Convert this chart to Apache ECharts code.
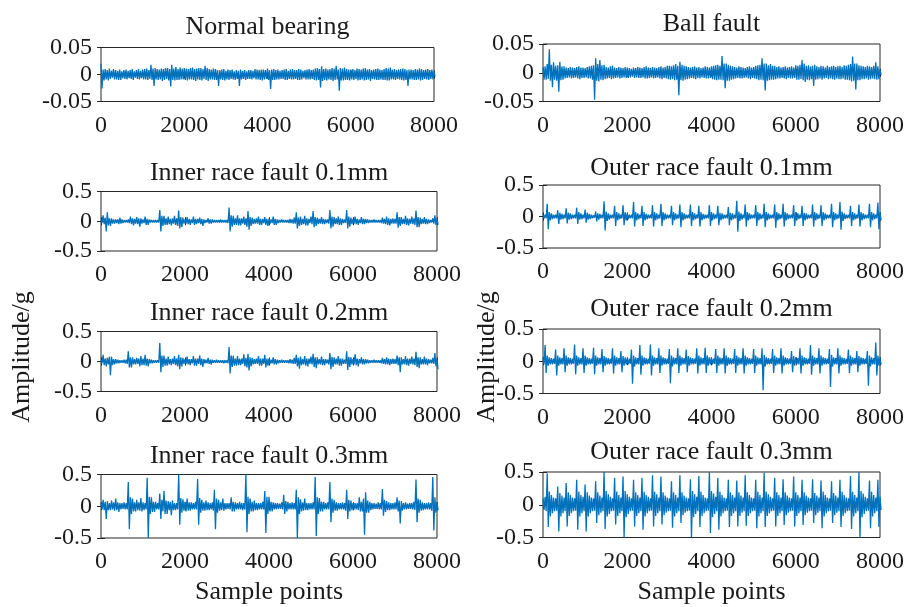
<!DOCTYPE html>
<html>
<head>
<meta charset="utf-8">
<script src="https://cdn.jsdelivr.net/npm/echarts@6/dist/echarts.min.js"></script>
<style>
  html, body { margin: 0; padding: 0; background: #ffffff; }
  #chart { width: 907px; height: 607px; }
</style>
</head>
<body>
<div id="chart"></div>
<script>
// Each record is stored as the upper and lower envelope of consecutive
// WINDOW-sample blocks (block k starts at sample k * WINDOW).
const WINDOW = 50;

const xTicks = [0, 2000, 4000, 6000, 8000];
const yTicksSmall = [-0.05, 0, 0.05];
const yTicksLarge = [-0.5, 0, 0.5];

const panelTitles = [
  'Normal bearing', 'Ball fault',
  'Inner race fault 0.1mm', 'Outer race fault 0.1mm',
  'Inner race fault 0.2mm', 'Outer race fault 0.2mm',
  'Inner race fault 0.3mm', 'Outer race fault 0.3mm'
];
const yAxisName = 'Amplitude/g';
const xAxisName = 'Sample points';

// ---- Normal bearing ----
const normalMax = [
  0.020, 0.009, 0.010, 0.008, 0.011, 0.007, 0.010, 0.008, 0.007, 0.009,
  0.006, 0.008, 0.009, 0.007, 0.008, 0.010, 0.006, 0.008, 0.010, 0.007,
  0.009, 0.010, 0.011, 0.008, 0.018, 0.011, 0.012, 0.010, 0.009, 0.011,
  0.010, 0.012, 0.012, 0.010, 0.018, 0.011, 0.014, 0.010, 0.013, 0.011,
  0.012, 0.011, 0.010, 0.012, 0.013, 0.010, 0.011, 0.012, 0.012, 0.010,
  0.016, 0.012, 0.010, 0.009, 0.011, 0.010, 0.008, 0.008, 0.009, 0.010,
  0.007, 0.009, 0.008, 0.009, 0.006, 0.008, 0.007, 0.009, 0.007, 0.008,
  0.006, 0.008, 0.008, 0.007, 0.010, 0.009, 0.008, 0.009, 0.009, 0.008,
  0.011, 0.008, 0.009, 0.010, 0.008, 0.009, 0.007, 0.008, 0.009, 0.010,
  0.007, 0.009, 0.010, 0.008, 0.008, 0.010, 0.009, 0.007, 0.008, 0.009,
  0.010, 0.008, 0.009, 0.011, 0.012, 0.010, 0.015, 0.010, 0.011, 0.009,
  0.010, 0.012, 0.011, 0.016, 0.009, 0.012, 0.011, 0.013, 0.010, 0.009,
  0.009, 0.010, 0.008, 0.011, 0.010, 0.009, 0.011, 0.012, 0.009, 0.010,
  0.008, 0.009, 0.010, 0.011, 0.009, 0.008, 0.010, 0.012, 0.011, 0.013,
  0.009, 0.010, 0.008, 0.009, 0.010, 0.011, 0.010, 0.008, 0.009, 0.009,
  0.008, 0.010, 0.009, 0.011, 0.010, 0.008, 0.009, 0.010, 0.008, 0.009,
  0.006
];
const normalMin = [
  -0.026, -0.011, -0.009, -0.011, -0.008, -0.006, -0.009, -0.009, -0.010, -0.010,
  -0.007, -0.008, -0.009, -0.007, -0.008, -0.010, -0.006, -0.008, -0.009, -0.007,
  -0.009, -0.009, -0.010, -0.008, -0.010, -0.021, -0.009, -0.010, -0.009, -0.012,
  -0.010, -0.008, -0.011, -0.022, -0.010, -0.011, -0.010, -0.010, -0.009, -0.009,
  -0.010, -0.011, -0.009, -0.009, -0.010, -0.012, -0.009, -0.010, -0.011, -0.008,
  -0.010, -0.012, -0.009, -0.009, -0.010, -0.010, -0.021, -0.009, -0.010, -0.011,
  -0.009, -0.010, -0.008, -0.009, -0.010, -0.008, -0.021, -0.009, -0.008, -0.010,
  -0.008, -0.008, -0.009, -0.007, -0.009, -0.009, -0.010, -0.011, -0.009, -0.008,
  -0.010, -0.027, -0.010, -0.010, -0.009, -0.009, -0.008, -0.008, -0.010, -0.010,
  -0.008, -0.009, -0.009, -0.008, -0.010, -0.010, -0.009, -0.007, -0.009, -0.009,
  -0.009, -0.008, -0.010, -0.011, -0.010, -0.024, -0.012, -0.010, -0.011, -0.009,
  -0.010, -0.012, -0.010, -0.009, -0.030, -0.011, -0.011, -0.010, -0.010, -0.011,
  -0.009, -0.010, -0.008, -0.011, -0.010, -0.009, -0.011, -0.010, -0.009, -0.012,
  -0.008, -0.009, -0.010, -0.010, -0.009, -0.010, -0.010, -0.011, -0.011, -0.009,
  -0.009, -0.010, -0.008, -0.009, -0.010, -0.011, -0.010, -0.021, -0.009, -0.009,
  -0.010, -0.010, -0.009, -0.011, -0.010, -0.008, -0.009, -0.010, -0.008, -0.009,
  -0.004
];

// ---- Ball fault ----
const ballMax = [
  0.010, 0.011, 0.015, 0.041, 0.014, 0.018, 0.012, 0.013, 0.019, 0.011,
  0.011, 0.009, 0.008, 0.010, 0.009, 0.008, 0.010, 0.011, 0.009, 0.009,
  0.008, 0.010, 0.011, 0.012, 0.013, 0.025, 0.015, 0.022, 0.013, 0.014,
  0.010, 0.009, 0.011, 0.012, 0.009, 0.008, 0.010, 0.009, 0.008, 0.010,
  0.009, 0.008, 0.007, 0.009, 0.008, 0.010, 0.009, 0.008, 0.010, 0.011,
  0.009, 0.008, 0.010, 0.009, 0.008, 0.010, 0.011, 0.009, 0.010, 0.012,
  0.012, 0.011, 0.013, 0.015, 0.012, 0.019, 0.014, 0.012, 0.011, 0.010,
  0.009, 0.010, 0.011, 0.009, 0.010, 0.008, 0.009, 0.011, 0.010, 0.009,
  0.011, 0.012, 0.013, 0.014, 0.012, 0.029, 0.016, 0.016, 0.014, 0.012,
  0.011, 0.010, 0.009, 0.011, 0.010, 0.009, 0.008, 0.010, 0.011, 0.009,
  0.010, 0.012, 0.013, 0.014, 0.025, 0.016, 0.016, 0.013, 0.015, 0.012,
  0.012, 0.010, 0.011, 0.009, 0.010, 0.011, 0.009, 0.010, 0.011, 0.009,
  0.013, 0.012, 0.014, 0.022, 0.016, 0.012, 0.013, 0.011, 0.012, 0.014,
  0.011, 0.010, 0.012, 0.011, 0.009, 0.012, 0.010, 0.011, 0.012, 0.010,
  0.011, 0.012, 0.010, 0.013, 0.012, 0.014, 0.015, 0.028, 0.016, 0.016,
  0.013, 0.012, 0.011, 0.010, 0.012, 0.011, 0.010, 0.012, 0.018, 0.011,
  0.006
];
const ballMin = [
  -0.012, -0.012, -0.011, -0.014, -0.025, -0.012, -0.014, -0.033, -0.013, -0.012,
  -0.010, -0.009, -0.008, -0.010, -0.009, -0.008, -0.010, -0.011, -0.009, -0.009,
  -0.008, -0.010, -0.010, -0.012, -0.047, -0.014, -0.015, -0.012, -0.013, -0.011,
  -0.010, -0.009, -0.011, -0.010, -0.009, -0.008, -0.010, -0.009, -0.008, -0.009,
  -0.009, -0.008, -0.007, -0.009, -0.008, -0.009, -0.009, -0.008, -0.010, -0.010,
  -0.009, -0.008, -0.010, -0.009, -0.008, -0.010, -0.011, -0.009, -0.010, -0.011,
  -0.012, -0.011, -0.013, -0.012, -0.039, -0.013, -0.014, -0.012, -0.011, -0.010,
  -0.009, -0.010, -0.011, -0.009, -0.010, -0.008, -0.009, -0.010, -0.010, -0.009,
  -0.011, -0.012, -0.013, -0.012, -0.012, -0.013, -0.027, -0.014, -0.014, -0.012,
  -0.011, -0.010, -0.009, -0.010, -0.010, -0.009, -0.008, -0.010, -0.011, -0.009,
  -0.010, -0.011, -0.013, -0.012, -0.013, -0.031, -0.014, -0.013, -0.012, -0.012,
  -0.011, -0.010, -0.010, -0.009, -0.010, -0.011, -0.009, -0.010, -0.010, -0.009,
  -0.012, -0.012, -0.011, -0.013, -0.016, -0.012, -0.013, -0.011, -0.023, -0.012,
  -0.011, -0.010, -0.012, -0.010, -0.009, -0.011, -0.010, -0.011, -0.012, -0.010,
  -0.011, -0.011, -0.010, -0.012, -0.012, -0.013, -0.015, -0.014, -0.029, -0.013,
  -0.013, -0.011, -0.011, -0.010, -0.012, -0.011, -0.010, -0.011, -0.012, -0.011,
  -0.004
];

// ---- Inner race fault 0.1 mm ----
const inner01Max = [
  0.03, 0.10, 0.06, 0.15, 0.05, 0.05, 0.03, 0.03, 0.03, 0.06,
  0.03, 0.02, 0.02, 0.03, 0.08, 0.05, 0.04, 0.07, 0.05, 0.05,
  0.03, 0.08, 0.04, 0.03, 0.02, 0.02, 0.02, 0.02, 0.19, 0.09,
  0.09, 0.05, 0.08, 0.04, 0.05, 0.09, 0.05, 0.18, 0.07, 0.06,
  0.03, 0.07, 0.04, 0.03, 0.08, 0.04, 0.04, 0.06, 0.04, 0.03,
  0.02, 0.05, 0.03, 0.03, 0.02, 0.02, 0.02, 0.03, 0.02, 0.02,
  0.02, 0.23, 0.10, 0.09, 0.05, 0.10, 0.05, 0.05, 0.08, 0.05,
  0.17, 0.07, 0.06, 0.04, 0.05, 0.08, 0.04, 0.04, 0.07, 0.04,
  0.04, 0.03, 0.08, 0.04, 0.03, 0.02, 0.03, 0.02, 0.02, 0.02,
  0.04, 0.03, 0.06, 0.15, 0.06, 0.08, 0.04, 0.09, 0.05, 0.04,
  0.08, 0.17, 0.07, 0.06, 0.04, 0.07, 0.04, 0.03, 0.03, 0.19,
  0.08, 0.07, 0.05, 0.08, 0.05, 0.04, 0.03, 0.19, 0.08, 0.06,
  0.04, 0.08, 0.04, 0.03, 0.07, 0.04, 0.04, 0.03, 0.02, 0.02,
  0.03, 0.02, 0.02, 0.02, 0.06, 0.04, 0.08, 0.05, 0.04, 0.05,
  0.04, 0.15, 0.07, 0.07, 0.04, 0.09, 0.05, 0.04, 0.08, 0.05,
  0.18, 0.07, 0.06, 0.04, 0.07, 0.04, 0.03, 0.02, 0.05, 0.10,
  0.05
];
const inner01Min = [
  -0.03, -0.05, -0.17, -0.07, -0.08, -0.04, -0.04, -0.03, -0.05, -0.04,
  -0.03, -0.02, -0.02, -0.03, -0.05, -0.07, -0.04, -0.05, -0.09, -0.04,
  -0.03, -0.06, -0.06, -0.02, -0.02, -0.02, -0.02, -0.02, -0.17, -0.08,
  -0.06, -0.06, -0.05, -0.07, -0.04, -0.06, -0.08, -0.12, -0.10, -0.04,
  -0.04, -0.05, -0.06, -0.03, -0.06, -0.05, -0.03, -0.05, -0.08, -0.03,
  -0.02, -0.04, -0.04, -0.02, -0.02, -0.02, -0.02, -0.02, -0.02, -0.02,
  -0.03, -0.17, -0.09, -0.06, -0.06, -0.07, -0.07, -0.04, -0.06, -0.09,
  -0.14, -0.08, -0.05, -0.04, -0.04, -0.06, -0.06, -0.03, -0.06, -0.08,
  -0.04, -0.03, -0.06, -0.06, -0.03, -0.02, -0.02, -0.02, -0.02, -0.03,
  -0.03, -0.04, -0.04, -0.12, -0.08, -0.06, -0.05, -0.07, -0.07, -0.03,
  -0.05, -0.10, -0.08, -0.05, -0.04, -0.05, -0.05, -0.03, -0.04, -0.12,
  -0.09, -0.05, -0.05, -0.06, -0.06, -0.03, -0.03, -0.12, -0.09, -0.05,
  -0.04, -0.05, -0.06, -0.03, -0.05, -0.05, -0.03, -0.03, -0.02, -0.02,
  -0.02, -0.02, -0.02, -0.03, -0.04, -0.05, -0.06, -0.07, -0.04, -0.04,
  -0.04, -0.11, -0.08, -0.05, -0.05, -0.06, -0.07, -0.04, -0.05, -0.06,
  -0.10, -0.10, -0.05, -0.04, -0.05, -0.05, -0.03, -0.02, -0.04, -0.06,
  -0.06
];

// ---- Outer race fault 0.1 mm ----
const outer01Max = [
  0.03, 0.03, 0.20, 0.07, 0.05, 0.03, 0.03, 0.10, 0.06, 0.04,
  0.03, 0.13, 0.06, 0.05, 0.03, 0.03, 0.14, 0.07, 0.05, 0.03,
  0.11, 0.06, 0.04, 0.03, 0.02, 0.08, 0.05, 0.04, 0.03, 0.24,
  0.08, 0.05, 0.03, 0.03, 0.17, 0.07, 0.05, 0.03, 0.18, 0.07,
  0.05, 0.03, 0.03, 0.23, 0.07, 0.05, 0.03, 0.17, 0.07, 0.04,
  0.03, 0.03, 0.18, 0.07, 0.05, 0.03, 0.20, 0.07, 0.05, 0.03,
  0.03, 0.17, 0.07, 0.05, 0.03, 0.19, 0.07, 0.05, 0.03, 0.03,
  0.19, 0.07, 0.05, 0.03, 0.17, 0.07, 0.04, 0.03, 0.03, 0.18,
  0.07, 0.05, 0.03, 0.17, 0.06, 0.05, 0.03, 0.03, 0.15, 0.06,
  0.05, 0.03, 0.25, 0.08, 0.05, 0.03, 0.19, 0.07, 0.05, 0.03,
  0.03, 0.18, 0.07, 0.05, 0.03, 0.20, 0.07, 0.05, 0.03, 0.03,
  0.19, 0.07, 0.05, 0.03, 0.20, 0.07, 0.05, 0.03, 0.03, 0.18,
  0.07, 0.05, 0.03, 0.17, 0.06, 0.05, 0.03, 0.03, 0.19, 0.07,
  0.05, 0.03, 0.18, 0.07, 0.05, 0.03, 0.03, 0.20, 0.07, 0.05,
  0.03, 0.23, 0.08, 0.05, 0.03, 0.03, 0.17, 0.07, 0.05, 0.03,
  0.19, 0.07, 0.05, 0.03, 0.03, 0.20, 0.07, 0.05, 0.03, 0.22,
  0.07
];
const outer01Min = [
  -0.03, -0.03, -0.20, -0.06, -0.04, -0.03, -0.03, -0.12, -0.05, -0.04,
  -0.03, -0.11, -0.05, -0.04, -0.03, -0.03, -0.12, -0.05, -0.04, -0.03,
  -0.10, -0.05, -0.04, -0.03, -0.02, -0.08, -0.05, -0.03, -0.03, -0.22,
  -0.07, -0.05, -0.03, -0.03, -0.15, -0.06, -0.04, -0.03, -0.14, -0.06,
  -0.04, -0.03, -0.03, -0.16, -0.06, -0.04, -0.03, -0.15, -0.06, -0.04,
  -0.03, -0.03, -0.16, -0.06, -0.04, -0.03, -0.15, -0.06, -0.04, -0.03,
  -0.03, -0.14, -0.06, -0.04, -0.03, -0.17, -0.06, -0.04, -0.03, -0.03,
  -0.15, -0.06, -0.04, -0.03, -0.16, -0.06, -0.04, -0.03, -0.03, -0.15,
  -0.06, -0.04, -0.03, -0.14, -0.06, -0.04, -0.03, -0.03, -0.14, -0.06,
  -0.04, -0.03, -0.24, -0.07, -0.05, -0.03, -0.16, -0.06, -0.04, -0.03,
  -0.03, -0.15, -0.06, -0.04, -0.03, -0.17, -0.06, -0.04, -0.03, -0.03,
  -0.18, -0.06, -0.04, -0.03, -0.16, -0.06, -0.04, -0.03, -0.03, -0.15,
  -0.06, -0.04, -0.03, -0.15, -0.06, -0.04, -0.03, -0.03, -0.16, -0.06,
  -0.04, -0.03, -0.15, -0.06, -0.04, -0.03, -0.03, -0.17, -0.06, -0.04,
  -0.03, -0.21, -0.07, -0.04, -0.03, -0.03, -0.15, -0.06, -0.04, -0.03,
  -0.16, -0.06, -0.04, -0.03, -0.03, -0.17, -0.06, -0.04, -0.03, -0.20,
  -0.06
];

// ---- Inner race fault 0.2 mm ----
const inner02Max = [
  0.03, 0.11, 0.05, 0.06, 0.08, 0.08, 0.04, 0.04, 0.03, 0.02,
  0.02, 0.03, 0.03, 0.17, 0.07, 0.07, 0.04, 0.06, 0.05, 0.09,
  0.05, 0.11, 0.05, 0.04, 0.03, 0.02, 0.02, 0.02, 0.31, 0.10,
  0.10, 0.05, 0.08, 0.04, 0.05, 0.09, 0.05, 0.11, 0.07, 0.06,
  0.04, 0.08, 0.04, 0.04, 0.09, 0.05, 0.05, 0.10, 0.05, 0.04,
  0.03, 0.06, 0.03, 0.03, 0.02, 0.03, 0.02, 0.02, 0.02, 0.02,
  0.02, 0.24, 0.10, 0.10, 0.05, 0.09, 0.05, 0.05, 0.12, 0.06,
  0.13, 0.07, 0.06, 0.04, 0.05, 0.09, 0.05, 0.05, 0.11, 0.05,
  0.05, 0.03, 0.07, 0.04, 0.03, 0.02, 0.03, 0.02, 0.02, 0.02,
  0.04, 0.03, 0.06, 0.11, 0.06, 0.08, 0.04, 0.09, 0.05, 0.05,
  0.08, 0.13, 0.07, 0.07, 0.04, 0.08, 0.04, 0.04, 0.03, 0.14,
  0.08, 0.07, 0.05, 0.09, 0.05, 0.05, 0.03, 0.17, 0.08, 0.07,
  0.04, 0.12, 0.05, 0.04, 0.07, 0.04, 0.04, 0.03, 0.02, 0.02,
  0.03, 0.02, 0.02, 0.02, 0.06, 0.04, 0.07, 0.05, 0.04, 0.05,
  0.04, 0.10, 0.07, 0.07, 0.04, 0.09, 0.05, 0.05, 0.08, 0.05,
  0.16, 0.07, 0.07, 0.04, 0.08, 0.05, 0.04, 0.03, 0.06, 0.14,
  0.05
];
const inner02Min = [
  -0.03, -0.06, -0.08, -0.05, -0.23, -0.06, -0.05, -0.03, -0.03, -0.02,
  -0.02, -0.03, -0.04, -0.10, -0.10, -0.05, -0.05, -0.04, -0.08, -0.06,
  -0.06, -0.07, -0.08, -0.03, -0.03, -0.02, -0.02, -0.02, -0.18, -0.09,
  -0.07, -0.07, -0.05, -0.06, -0.04, -0.06, -0.08, -0.13, -0.08, -0.04,
  -0.04, -0.05, -0.06, -0.03, -0.07, -0.07, -0.04, -0.06, -0.09, -0.03,
  -0.03, -0.04, -0.05, -0.02, -0.02, -0.02, -0.02, -0.02, -0.03, -0.02,
  -0.03, -0.20, -0.09, -0.07, -0.07, -0.06, -0.06, -0.04, -0.08, -0.10,
  -0.15, -0.08, -0.05, -0.04, -0.04, -0.07, -0.07, -0.04, -0.10, -0.07,
  -0.04, -0.03, -0.05, -0.05, -0.03, -0.02, -0.02, -0.02, -0.02, -0.03,
  -0.03, -0.04, -0.04, -0.08, -0.12, -0.06, -0.05, -0.07, -0.08, -0.04,
  -0.05, -0.09, -0.11, -0.05, -0.05, -0.06, -0.06, -0.03, -0.05, -0.13,
  -0.09, -0.05, -0.05, -0.07, -0.07, -0.04, -0.04, -0.14, -0.09, -0.05,
  -0.05, -0.06, -0.08, -0.03, -0.05, -0.05, -0.03, -0.03, -0.02, -0.02,
  -0.02, -0.02, -0.02, -0.03, -0.04, -0.05, -0.05, -0.06, -0.04, -0.04,
  -0.04, -0.06, -0.18, -0.05, -0.05, -0.06, -0.07, -0.04, -0.05, -0.06,
  -0.09, -0.11, -0.05, -0.05, -0.05, -0.06, -0.03, -0.03, -0.04, -0.08,
  -0.13
];

// ---- Outer race fault 0.2 mm ----
const outer02Max = [
  0.05, 0.25, 0.09, 0.06, 0.05, 0.04, 0.18, 0.09, 0.06, 0.05,
  0.20, 0.09, 0.06, 0.05, 0.04, 0.26, 0.09, 0.06, 0.05, 0.20,
  0.09, 0.06, 0.05, 0.04, 0.21, 0.09, 0.06, 0.05, 0.19, 0.08,
  0.06, 0.05, 0.04, 0.20, 0.09, 0.06, 0.05, 0.16, 0.08, 0.06,
  0.05, 0.04, 0.18, 0.09, 0.06, 0.05, 0.25, 0.09, 0.06, 0.05,
  0.04, 0.26, 0.09, 0.06, 0.05, 0.20, 0.09, 0.06, 0.05, 0.04,
  0.19, 0.09, 0.06, 0.05, 0.20, 0.09, 0.06, 0.05, 0.18, 0.08,
  0.06, 0.05, 0.04, 0.20, 0.09, 0.06, 0.05, 0.21, 0.09, 0.06,
  0.05, 0.04, 0.19, 0.09, 0.06, 0.05, 0.20, 0.09, 0.06, 0.05,
  0.04, 0.19, 0.09, 0.06, 0.05, 0.20, 0.09, 0.06, 0.05, 0.04,
  0.19, 0.09, 0.06, 0.05, 0.20, 0.10, 0.06, 0.05, 0.04, 0.19,
  0.09, 0.06, 0.05, 0.20, 0.09, 0.06, 0.05, 0.04, 0.16, 0.08,
  0.06, 0.05, 0.20, 0.09, 0.06, 0.05, 0.04, 0.25, 0.09, 0.06,
  0.05, 0.20, 0.09, 0.06, 0.05, 0.04, 0.19, 0.10, 0.06, 0.05,
  0.20, 0.09, 0.06, 0.05, 0.04, 0.18, 0.09, 0.06, 0.05, 0.16,
  0.08, 0.06, 0.05, 0.04, 0.16, 0.09, 0.06, 0.05, 0.29, 0.09,
  0.06
];
const outer02Min = [
  -0.05, -0.18, -0.07, -0.05, -0.05, -0.04, -0.22, -0.07, -0.05, -0.05,
  -0.17, -0.07, -0.05, -0.05, -0.04, -0.20, -0.07, -0.05, -0.05, -0.18,
  -0.07, -0.05, -0.05, -0.04, -0.20, -0.07, -0.05, -0.05, -0.17, -0.07,
  -0.05, -0.05, -0.04, -0.19, -0.07, -0.05, -0.05, -0.17, -0.07, -0.05,
  -0.05, -0.04, -0.35, -0.08, -0.05, -0.05, -0.21, -0.07, -0.05, -0.05,
  -0.04, -0.22, -0.07, -0.05, -0.05, -0.18, -0.07, -0.05, -0.05, -0.04,
  -0.34, -0.08, -0.05, -0.05, -0.18, -0.07, -0.05, -0.05, -0.17, -0.07,
  -0.05, -0.05, -0.04, -0.19, -0.07, -0.05, -0.05, -0.18, -0.07, -0.05,
  -0.05, -0.04, -0.18, -0.07, -0.05, -0.05, -0.19, -0.07, -0.05, -0.05,
  -0.04, -0.18, -0.07, -0.05, -0.05, -0.19, -0.07, -0.05, -0.05, -0.04,
  -0.18, -0.07, -0.05, -0.05, -0.45, -0.08, -0.05, -0.05, -0.04, -0.18,
  -0.07, -0.05, -0.05, -0.19, -0.07, -0.05, -0.05, -0.04, -0.17, -0.07,
  -0.05, -0.05, -0.19, -0.07, -0.05, -0.05, -0.04, -0.21, -0.07, -0.05,
  -0.05, -0.19, -0.07, -0.05, -0.05, -0.04, -0.40, -0.08, -0.05, -0.05,
  -0.19, -0.07, -0.05, -0.05, -0.04, -0.18, -0.07, -0.05, -0.05, -0.17,
  -0.07, -0.05, -0.05, -0.04, -0.38, -0.08, -0.05, -0.05, -0.22, -0.07,
  -0.05
];

// ---- Inner race fault 0.3 mm ----
const inner03Max = [
  0.05, 0.10, 0.07, 0.08, 0.05, 0.09, 0.06, 0.12, 0.06, 0.05,
  0.05, 0.06, 0.05, 0.38, 0.14, 0.12, 0.06, 0.10, 0.06, 0.13,
  0.06, 0.05, 0.45, 0.15, 0.14, 0.07, 0.07, 0.05, 0.20, 0.10,
  0.24, 0.09, 0.08, 0.07, 0.09, 0.05, 0.05, 0.50, 0.13, 0.11,
  0.07, 0.12, 0.06, 0.06, 0.05, 0.07, 0.43, 0.13, 0.10, 0.06,
  0.09, 0.06, 0.05, 0.06, 0.26, 0.12, 0.10, 0.06, 0.12, 0.05,
  0.05, 0.05, 0.14, 0.07, 0.06, 0.05, 0.07, 0.05, 0.05, 0.50,
  0.15, 0.12, 0.07, 0.09, 0.05, 0.05, 0.05, 0.07, 0.24, 0.15,
  0.15, 0.07, 0.06, 0.05, 0.05, 0.04, 0.06, 0.18, 0.08, 0.07,
  0.05, 0.06, 0.05, 0.26, 0.14, 0.11, 0.06, 0.12, 0.05, 0.05,
  0.05, 0.06, 0.46, 0.14, 0.13, 0.07, 0.07, 0.05, 0.06, 0.38,
  0.12, 0.10, 0.06, 0.05, 0.05, 0.06, 0.05, 0.26, 0.10, 0.09,
  0.05, 0.05, 0.05, 0.14, 0.07, 0.12, 0.22, 0.09, 0.07, 0.05,
  0.05, 0.04, 0.06, 0.05, 0.27, 0.10, 0.08, 0.06, 0.05, 0.05,
  0.06, 0.14, 0.09, 0.08, 0.05, 0.06, 0.04, 0.05, 0.05, 0.07,
  0.42, 0.12, 0.10, 0.06, 0.05, 0.05, 0.06, 0.05, 0.46, 0.14,
  0.07
];
const inner03Min = [
  -0.05, -0.06, -0.20, -0.06, -0.06, -0.05, -0.07, -0.06, -0.09, -0.05,
  -0.04, -0.05, -0.05, -0.36, -0.12, -0.08, -0.08, -0.06, -0.07, -0.08,
  -0.06, -0.05, -0.50, -0.12, -0.09, -0.09, -0.05, -0.05, -0.20, -0.08,
  -0.12, -0.12, -0.06, -0.14, -0.06, -0.06, -0.05, -0.29, -0.10, -0.07,
  -0.08, -0.07, -0.07, -0.05, -0.05, -0.05, -0.29, -0.10, -0.07, -0.07,
  -0.06, -0.06, -0.05, -0.07, -0.36, -0.10, -0.07, -0.06, -0.07, -0.05,
  -0.04, -0.05, -0.08, -0.08, -0.05, -0.05, -0.05, -0.06, -0.05, -0.41,
  -0.12, -0.08, -0.08, -0.06, -0.06, -0.05, -0.05, -0.05, -0.42, -0.12,
  -0.08, -0.08, -0.05, -0.05, -0.04, -0.04, -0.05, -0.12, -0.08, -0.05,
  -0.05, -0.05, -0.05, -0.50, -0.12, -0.08, -0.07, -0.06, -0.06, -0.05,
  -0.05, -0.05, -0.47, -0.12, -0.08, -0.08, -0.05, -0.05, -0.05, -0.25,
  -0.10, -0.07, -0.07, -0.05, -0.05, -0.05, -0.07, -0.20, -0.08, -0.06,
  -0.05, -0.05, -0.06, -0.08, -0.08, -0.45, -0.10, -0.10, -0.06, -0.05,
  -0.04, -0.04, -0.05, -0.05, -0.15, -0.09, -0.06, -0.06, -0.05, -0.05,
  -0.05, -0.08, -0.27, -0.07, -0.05, -0.05, -0.04, -0.04, -0.05, -0.06,
  -0.25, -0.10, -0.07, -0.06, -0.05, -0.05, -0.05, -0.07, -0.38, -0.10,
  -0.06
];

// ---- Outer race fault 0.3 mm ----
const outer03Max = [
  0.10, 0.12, 0.48, 0.20, 0.15, 0.11, 0.10, 0.28, 0.18, 0.14,
  0.11, 0.33, 0.19, 0.15, 0.11, 0.10, 0.38, 0.20, 0.15, 0.12,
  0.31, 0.19, 0.14, 0.11, 0.10, 0.36, 0.19, 0.14, 0.11, 0.50,
  0.21, 0.16, 0.12, 0.10, 0.41, 0.20, 0.15, 0.11, 0.43, 0.21,
  0.16, 0.12, 0.10, 0.38, 0.19, 0.15, 0.11, 0.41, 0.20, 0.15,
  0.12, 0.10, 0.45, 0.20, 0.16, 0.11, 0.43, 0.19, 0.14, 0.11,
  0.10, 0.36, 0.19, 0.15, 0.11, 0.45, 0.19, 0.14, 0.11, 0.10,
  0.39, 0.21, 0.16, 0.12, 0.44, 0.20, 0.15, 0.11, 0.10, 0.50,
  0.21, 0.17, 0.12, 0.41, 0.20, 0.15, 0.11, 0.10, 0.38, 0.19,
  0.15, 0.11, 0.37, 0.19, 0.14, 0.11, 0.45, 0.19, 0.15, 0.11,
  0.10, 0.38, 0.20, 0.15, 0.11, 0.49, 0.20, 0.16, 0.12, 0.10,
  0.41, 0.19, 0.15, 0.11, 0.39, 0.19, 0.14, 0.11, 0.10, 0.43,
  0.19, 0.15, 0.11, 0.38, 0.19, 0.14, 0.11, 0.10, 0.39, 0.18,
  0.14, 0.11, 0.37, 0.20, 0.15, 0.11, 0.10, 0.36, 0.18, 0.14,
  0.11, 0.38, 0.20, 0.15, 0.11, 0.10, 0.44, 0.20, 0.15, 0.11,
  0.50, 0.21, 0.17, 0.12, 0.10, 0.37, 0.20, 0.15, 0.11, 0.38,
  0.12
];
const outer03Min = [
  -0.08, -0.10, -0.34, -0.18, -0.13, -0.10, -0.09, -0.41, -0.18, -0.13,
  -0.10, -0.33, -0.17, -0.13, -0.10, -0.09, -0.38, -0.18, -0.13, -0.10,
  -0.41, -0.18, -0.13, -0.10, -0.09, -0.28, -0.16, -0.12, -0.10, -0.37,
  -0.18, -0.14, -0.10, -0.09, -0.30, -0.17, -0.13, -0.10, -0.50, -0.19,
  -0.14, -0.10, -0.09, -0.33, -0.17, -0.13, -0.10, -0.38, -0.18, -0.13,
  -0.10, -0.09, -0.33, -0.17, -0.13, -0.10, -0.30, -0.16, -0.12, -0.10,
  -0.09, -0.35, -0.18, -0.13, -0.10, -0.28, -0.16, -0.12, -0.10, -0.09,
  -0.50, -0.19, -0.14, -0.10, -0.34, -0.17, -0.13, -0.10, -0.09, -0.43,
  -0.19, -0.14, -0.10, -0.38, -0.18, -0.13, -0.10, -0.09, -0.34, -0.17,
  -0.13, -0.10, -0.33, -0.17, -0.12, -0.10, -0.32, -0.17, -0.13, -0.10,
  -0.09, -0.36, -0.18, -0.13, -0.10, -0.34, -0.17, -0.13, -0.10, -0.09,
  -0.33, -0.17, -0.13, -0.10, -0.31, -0.16, -0.12, -0.10, -0.09, -0.33,
  -0.17, -0.13, -0.10, -0.31, -0.16, -0.12, -0.10, -0.09, -0.28, -0.16,
  -0.12, -0.10, -0.36, -0.18, -0.13, -0.10, -0.09, -0.28, -0.16, -0.12,
  -0.10, -0.34, -0.17, -0.13, -0.10, -0.09, -0.37, -0.18, -0.13, -0.10,
  -0.50, -0.19, -0.14, -0.10, -0.09, -0.36, -0.18, -0.13, -0.10, -0.34,
  -0.08
];

const panelMax = [normalMax, ballMax, inner01Max, outer01Max,
                  inner02Max, outer02Max, inner03Max, outer03Max];
const panelMin = [normalMin, ballMin, inner01Min, outer01Min,
                  inner02Min, outer02Min, inner03Min, outer03Min];
const panelYTicks = [yTicksSmall, yTicksSmall, yTicksLarge, yTicksLarge,
                     yTicksLarge, yTicksLarge, yTicksLarge, yTicksLarge];

// Plot boxes (pixels) and title centre heights for the 4 x 2 layout
const boxes = [
  { left: 101, top: 47.5, width: 333, height: 54 },
  { left: 543, top: 44, width: 337, height: 57.5 },
  { left: 101, top: 191.5, width: 336, height: 59.5 },
  { left: 543, top: 185, width: 337, height: 63 },
  { left: 101, top: 331.5, width: 336, height: 60 },
  { left: 543, top: 329, width: 337, height: 64.5 },
  { left: 101, top: 474.5, width: 336, height: 63.5 },
  { left: 543, top: 472, width: 337, height: 65.5 }
];
const titleY = [27, 24, 173, 168, 313, 309, 456, 452.5];

const FONT = '"Liberation Serif", "Times New Roman", serif';
const INK = '#1a1a1a';
const AXIS = '#262626';
const LINE = '#0072BD';

// max of each block first, then its min half a block later
function envelopeTrace(maxArr, minArr) {
  const pts = [];
  for (let k = 0; k < maxArr.length; k++) {
    pts.push([k * WINDOW, maxArr[k]]);
    pts.push([k * WINDOW + WINDOW / 2, minArr[k]]);
  }
  return pts;
}

const grid = [], xAxis = [], yAxis = [], series = [], graphic = [];
const tick = { show: true, inside: true, length: 4, lineStyle: { color: AXIS, width: 1 } };
const xLabel = { show: true, margin: 12, fontSize: 24, fontFamily: FONT, color: INK,
                 showMinLabel: true, showMaxLabel: true, formatter: v => String(v) };
const yLabel = { show: true, margin: 9, fontSize: 24, fontFamily: FONT, color: INK,
                 showMinLabel: true, showMaxLabel: true, formatter: v => String(v) };

boxes.forEach((b, i) => {
  const yt = panelYTicks[i];
  grid.push({
    left: b.left, top: b.top, width: b.width, height: b.height,
    show: true, borderColor: AXIS, borderWidth: 1, backgroundColor: 'transparent'
  });
  xAxis.push({
    type: 'value', gridIndex: i, position: 'bottom',
    min: xTicks[0], max: xTicks[xTicks.length - 1], interval: xTicks[1] - xTicks[0],
    axisLine: { show: false }, axisTick: tick, axisLabel: xLabel, splitLine: { show: false }
  });
  yAxis.push({
    type: 'value', gridIndex: i, position: 'left',
    min: yt[0], max: yt[yt.length - 1], interval: yt[1] - yt[0],
    axisLine: { show: false }, axisTick: tick, axisLabel: yLabel, splitLine: { show: false }
  });
  series.push({
    type: 'line', xAxisIndex: i, yAxisIndex: i,
    data: envelopeTrace(panelMax[i], panelMin[i]),
    symbol: 'none', showSymbol: false, clip: true, silent: true,
    lineStyle: { color: LINE, width: 1.3 },
    animation: false
  });
  graphic.push({
    type: 'text', x: b.left + b.width / 2, y: titleY[i], silent: true,
    style: { text: panelTitles[i], font: '26px ' + FONT, fill: INK,
             textAlign: 'center', textVerticalAlign: 'middle',
             align: 'center', verticalAlign: 'middle' }
  });
});

// mirrored ticks on the top and right edges of every box
boxes.forEach((b, i) => {
  const yt = panelYTicks[i];
  xAxis.push({
    type: 'value', gridIndex: i, position: 'top',
    min: xTicks[0], max: xTicks[xTicks.length - 1], interval: xTicks[1] - xTicks[0],
    axisLine: { show: false }, axisTick: tick, axisLabel: { show: false }, splitLine: { show: false }
  });
  yAxis.push({
    type: 'value', gridIndex: i, position: 'right',
    min: yt[0], max: yt[yt.length - 1], interval: yt[1] - yt[0],
    axisLine: { show: false }, axisTick: tick, axisLabel: { show: false }, splitLine: { show: false }
  });
});

// shared axis captions
[22, 487].forEach(x => {
  graphic.push({
    type: 'text', x: x, y: 357, rotation: Math.PI / 2, silent: true,
    style: { text: yAxisName, font: '26px ' + FONT, fill: INK,
             textAlign: 'center', textVerticalAlign: 'middle',
             align: 'center', verticalAlign: 'middle' }
  });
});
[boxes[6], boxes[7]].forEach(b => {
  graphic.push({
    type: 'text', x: b.left + b.width / 2, y: 592, silent: true,
    style: { text: xAxisName, font: '26px ' + FONT, fill: INK,
             textAlign: 'center', textVerticalAlign: 'middle',
             align: 'center', verticalAlign: 'middle' }
  });
});

const chart = echarts.init(document.getElementById('chart'), null, { renderer: 'canvas' });
chart.setOption({
  backgroundColor: '#ffffff',
  animation: false,
  textStyle: { fontFamily: FONT },
  grid: grid,
  xAxis: xAxis,
  yAxis: yAxis,
  series: series,
  graphic: graphic
});
</script>
</body>
</html>
